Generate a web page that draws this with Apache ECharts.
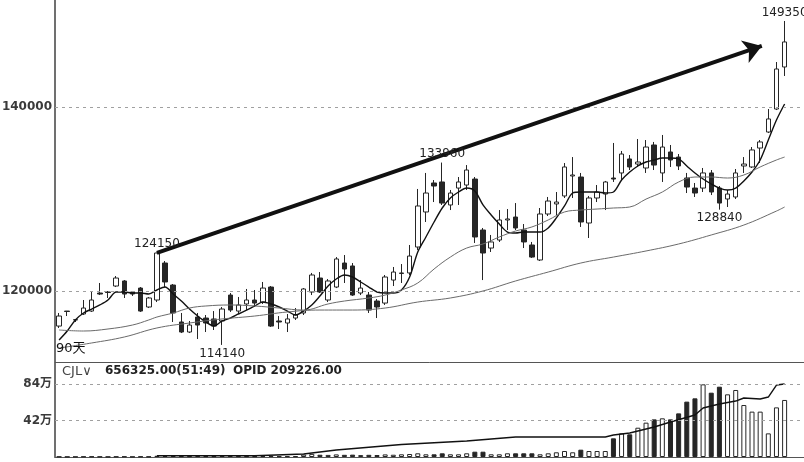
<!DOCTYPE html>
<html>
<head>
<meta charset="utf-8">
<script src="https://cdn.jsdelivr.net/npm/echarts@6/dist/echarts.min.js"></script>
<style>
html,body{margin:0;padding:0;background:#fff;}
#chart{width:804px;height:462px;}
</style>
</head>
<body>
<div id="chart"></div>
<script>
// ---- data ----
const slotCount = 92; // 90 trading days + 2 empty slots on the right
const categories = Array.from({length: slotCount}, (_, i) => String(i + 1));

// [open, close, low, high]
const candles = [
[116190,117280,115980,117610],[117820,117770,117280,117830],[116880,116850,116630,116900],
[117500,118150,117390,119020],[117820,119020,117720,119890],[119780,119670,119560,120870],
[119890,119840,119240,120000],[120540,121410,120430,121630],[121090,119670,119240,121190],
[119890,119670,119460,120000],[120320,117820,117720,120430],[118260,119240,118150,119350],
[119020,124130,118800,124150],[123040,120980,120430,123260],[120650,117610,116630,120760],
[116630,115540,115430,117610],[115540,116300,115430,116740],[117170,116300,114780,117610],
[117060,116520,115540,117390],[116960,116190,115760,117820],[116740,118040,114140,118260],
[119560,117930,117720,119780],[117820,118480,117500,119350],[118590,119020,117930,120220],
[119020,118690,118260,120110],[118800,120320,118590,120980],[120430,116190,116090,120540],
[116740,116630,115870,117280],[116520,116960,115540,117500],[117060,117390,116850,118150],
[117610,120220,117390,120320],[119890,121740,119560,121960],[121410,119890,119780,122060],
[119020,121090,118800,121300],[120430,123480,120320,123690],[123040,122390,120870,123910],
[122720,119560,119460,123040],[119780,120320,119560,121190],[119560,117930,117610,119890],
[118910,118260,117060,119130],[118690,121520,118480,121740],[121190,122060,120540,122610],
[121900,121960,120870,122930],[121960,123800,121740,125000],[124780,129240,124460,131090],
[128590,130650,127500,132830],[131740,131410,129670,132060],[131850,129560,129350,133960],
[129350,130650,128800,130980],[131190,131850,129350,132390],[131520,133150,130980,133690],
[132170,125870,125220,132390],[126630,124130,121190,126850],[124670,125330,124240,126090],
[125540,127720,125330,128800],[127720,127830,126630,128910],[128040,126850,126630,129560],
[126630,125330,124670,127280],[125000,123690,123590,125330],[123370,128370,123260,129020],
[128370,129780,128150,130220],[129460,129670,128260,130760],[130330,133480,130110,133910],
[132500,132610,130110,134560],[132390,127500,126960,132830],[127390,130110,125760,130330],
[130110,130760,129670,131520],[130540,131850,128800,131960],[132280,132170,131850,136090],
[132830,134890,132060,135220],[134350,133480,133150,134780],[133800,134020,133480,136520],
[133370,135650,132830,136410],[135870,133690,133150,136200],[132830,135650,131850,136960],
[135110,134240,133480,135870],[134560,133590,133150,134890],[132280,131300,130650,132830],
[131190,130650,130220,131740],[131190,132830,130760,133370],[132830,130760,130430,133150],
[131190,129560,128840,131410],[130000,130540,129130,130980],[130220,132830,130000,133260],
[133590,133800,132830,134560],[133480,135330,133370,135650],[135540,136200,133910,136410],
[137280,138700,137170,139780],[139780,144130,139670,144890],[144350,147070,143370,149350]
];

const ma5 = [114670,115650,116850,117610,118040,118480,119020,119890,119890,119780,
119780,119670,120110,120430,119670,118910,118040,117280,116630,116190,
116740,117060,117500,117930,118370,118800,118590,118260,117820,117390,
117820,118480,119460,120540,121300,121740,121520,120980,120430,119890,
119780,119780,120110,121520,124240,125870,127500,129020,130110,130760,
131190,130870,129350,128260,127280,126410,126300,126410,126410,126410,
126850,127940,129240,130650,130760,130760,130760,130650,130760,132060,
132930,133590,134020,134240,134460,134460,134350,133590,132830,132170,
131630,131190,130980,131190,131960,132930,134240,136410,138590,140330];

const ma20 = [[0,115760],[3,115650],[6,115870],[9,116300],[11,116850],[12,117170],[14,117610],
[16,118150],[18,118370],[21,118480],[24,118370],[27,118150],[30,117930],[33,118590],[35,118910],
[38,119240],[40,119560],[42,120110],[44,120870],[46,122390],[48,123690],[50,124670],[52,125110],
[54,125870],[56,126520],[58,126960],[60,127720],[62,128590],[64,128800],[66,128910],[68,129020],
[70,129130],[72,129990],[74,130760],[76,131850],[78,132390],[80,132390],[82,132280],[84,132610],
[86,133480],[88,134240],[89,134560]];

const ma60 = [[0,113800],[4,114350],[8,115000],[12,115980],[16,116520],[20,116960],[24,117280],
[28,117720],[32,117930],[36,117930],[40,118150],[44,118800],[48,119240],[52,120000],[56,121090],
[60,122060],[64,123040],[68,123690],[72,124350],[76,125110],[80,126090],[84,127170],[88,128690],
[89,129130]];

const volumes = [4000,3000,3000,5000,6000,4000,3000,5000,6000,3000,6000,5000,
14000,12000,13000,10000,9000,11000,9000,8000,13000,12000,10000,9000,8000,11000,14000,9000,10000,9000,
28000,36000,26000,24000,30000,25000,27000,22000,25000,23000,30000,26000,
31000,34500,42600,31000,31000,42600,31000,31000,42600,61000,61000,31000,31000,42600,42600,42600,42600,
31000,42600,54000,69000,54000,84000,69000,69000,69000,215000,272000,261000,337000,395000,433000,
445000,433000,502000,637000,675000,836000,740000,809000,721000,771000,598000,522000,522000,272000,
571000,656325];

const volLine = [[12,15000],[24,15000],[30,34000],[34,80000],[42,144000],[50,184000],[56,230000],
[67,230000],[68,253000],[70,276000],[73,345000],[75,403000],[78,483000],[79,564000],[81,610000],
[83,644000],[84,679000],[86,667000],[87,690000],[88,828000],[89,840000]];

const priceTicks = [120000, 140000];
const volTicks = [420000, 840000];
const volTickLabels = ['42万', '84万'];
const priceMarks = [
  {idx: 12, value: 124150, pos: 'top'},
  {idx: 20, value: 114140, pos: 'bottom'},
  {idx: 47, value: 133960, pos: 'top'},
  {idx: 81, value: 128840, pos: 'bottom'},
  {idx: 89, value: 149350, pos: 'top'}
];
const trendArrow = [[12, 124150], [86.2, 146640]];
const header = {name: 'CJL', vol: '656325.00(51:49)', opid: 'OPID 209226.00'};
const rangeLabel = '90天';

// ---- chart ----
const FONT = '"DejaVu Sans", "Noto Sans CJK SC", sans-serif';
const DARK = '#262626';
const chart = echarts.init(document.getElementById('chart'), null, {renderer: 'canvas'});

const volData = volumes.map((v, i) => {
  const up = candles[i][1] >= candles[i][0];
  return {value: v, itemStyle: {color: up ? '#fff' : DARK, borderColor: DARK, borderWidth: 1}};
});

const dashed = {color: '#a0a0a0', type: [3, 4], width: 1};

const option = {
  animation: false,
  backgroundColor: '#fff',
  textStyle: {fontFamily: FONT},
  grid: [
    {left: 55, top: 0, width: 750, height: 362, outerBoundsMode: 'none', containLabel: false},
    {left: 55, top: 363, width: 750, height: 94, outerBoundsMode: 'none', containLabel: false}
  ],
  xAxis: [
    {type: 'category', gridIndex: 0, data: categories, boundaryGap: true,
     axisLine: {show: true, lineStyle: {color: '#555', width: 1}}, axisTick: {show: false}, axisLabel: {show: false}, splitLine: {show: false}},
    {type: 'category', gridIndex: 1, data: categories, boundaryGap: true,
     axisLine: {show: true, lineStyle: {color: '#555', width: 1}}, axisTick: {show: false}, axisLabel: {show: false}, splitLine: {show: false}},
    {type: 'value', gridIndex: 0, min: -0.5, max: slotCount - 0.5, show: false}
  ],
  yAxis: [
    {type: 'value', gridIndex: 0, min: 112282, max: 151631,
     axisLine: {show: true, onZero: false, lineStyle: {color: '#707070', width: 2}},
     axisTick: {show: false}, splitLine: {show: false},
     axisLabel: {customValues: priceTicks, margin: 3, color: '#3a3a3a', fontWeight: 'bold', fontSize: 12, fontFamily: FONT,
       formatter: v => String(v)}},
    {type: 'value', gridIndex: 1, min: 0, max: 1081600,
     axisLine: {show: true, onZero: false, lineStyle: {color: '#707070', width: 2}},
     axisTick: {show: false}, splitLine: {show: false},
     axisLabel: {customValues: volTicks, margin: 3, color: '#3a3a3a', fontWeight: 'bold', fontSize: 12, fontFamily: FONT,
       formatter: v => volTickLabels[volTicks.indexOf(v)] || ''}}
  ],
  series: [
    {
      type: 'candlestick', name: 'K', xAxisIndex: 0, yAxisIndex: 0, data: candles, barWidth: 5,
      itemStyle: {color: '#fff', color0: DARK, borderColor: DARK, borderColor0: DARK, borderWidth: 1},
      markLine: {silent: true, symbol: ['none', 'none'], label: {show: false}, lineStyle: dashed,
        data: priceTicks.map(v => ({yAxis: v}))},
      markPoint: {silent: true, symbol: 'circle', symbolSize: 1, itemStyle: {color: 'rgba(0,0,0,0)'},
        data: priceMarks.map(m => ({coord: [m.idx, m.value], value: m.value,
          label: {show: true, position: m.pos, distance: 2, formatter: String(m.value), color: '#222', fontSize: 12, fontFamily: FONT}}))}
    },
    {type: 'line', name: 'MA5', xAxisIndex: 0, yAxisIndex: 0, data: ma5, showSymbol: false, smooth: 0.3,
     lineStyle: {color: '#111', width: 1.4}},
    {type: 'line', name: 'MA20', xAxisIndex: 0, yAxisIndex: 0, data: ma20, showSymbol: false, smooth: 0.4,
     lineStyle: {color: '#6a6a6a', width: 1}},
    {type: 'line', name: 'MA60', xAxisIndex: 0, yAxisIndex: 0, data: ma60, showSymbol: false, smooth: 0.4,
     lineStyle: {color: '#6a6a6a', width: 1}},
    {type: 'line', name: 'trend', xAxisIndex: 2, yAxisIndex: 0, data: trendArrow, showSymbol: false,
     lineStyle: {opacity: 0}, silent: true,
     markLine: {silent: true, symbol: ['none', 'arrow'], symbolSize: 18, label: {show: false},
       lineStyle: {color: '#111', width: 4, type: 'solid'},
       data: [[{coord: trendArrow[0]}, {coord: trendArrow[1]}]]}},
    {type: 'bar', name: 'CJL', xAxisIndex: 1, yAxisIndex: 1, data: volData, barWidth: 5,
     markLine: {silent: true, symbol: ['none', 'none'], label: {show: false}, lineStyle: dashed,
       data: volTicks.map(v => ({yAxis: v}))}},
    {type: 'line', name: 'OPID', xAxisIndex: 1, yAxisIndex: 1, data: volLine, showSymbol: false,
     lineStyle: {color: '#111', width: 1.4}}
  ],
  graphic: [
    {type: 'text', left: 56, top: 342, z: 100, style: {text: rangeLabel, fill: '#111', font: '13px ' + FONT}},
    {type: 'text', left: 62, top: 365, z: 100, style: {text: header.name + '∨', fill: '#444', font: '13px ' + FONT}},
    {type: 'text', left: 105, top: 365, z: 100, style: {text: header.vol, fill: '#222', font: 'bold 12px ' + FONT}},
    {type: 'text', left: 233, top: 365, z: 100, style: {text: header.opid, fill: '#222', font: 'bold 12px ' + FONT}}
  ]
};
chart.setOption(option);
</script>
</body>
</html>
